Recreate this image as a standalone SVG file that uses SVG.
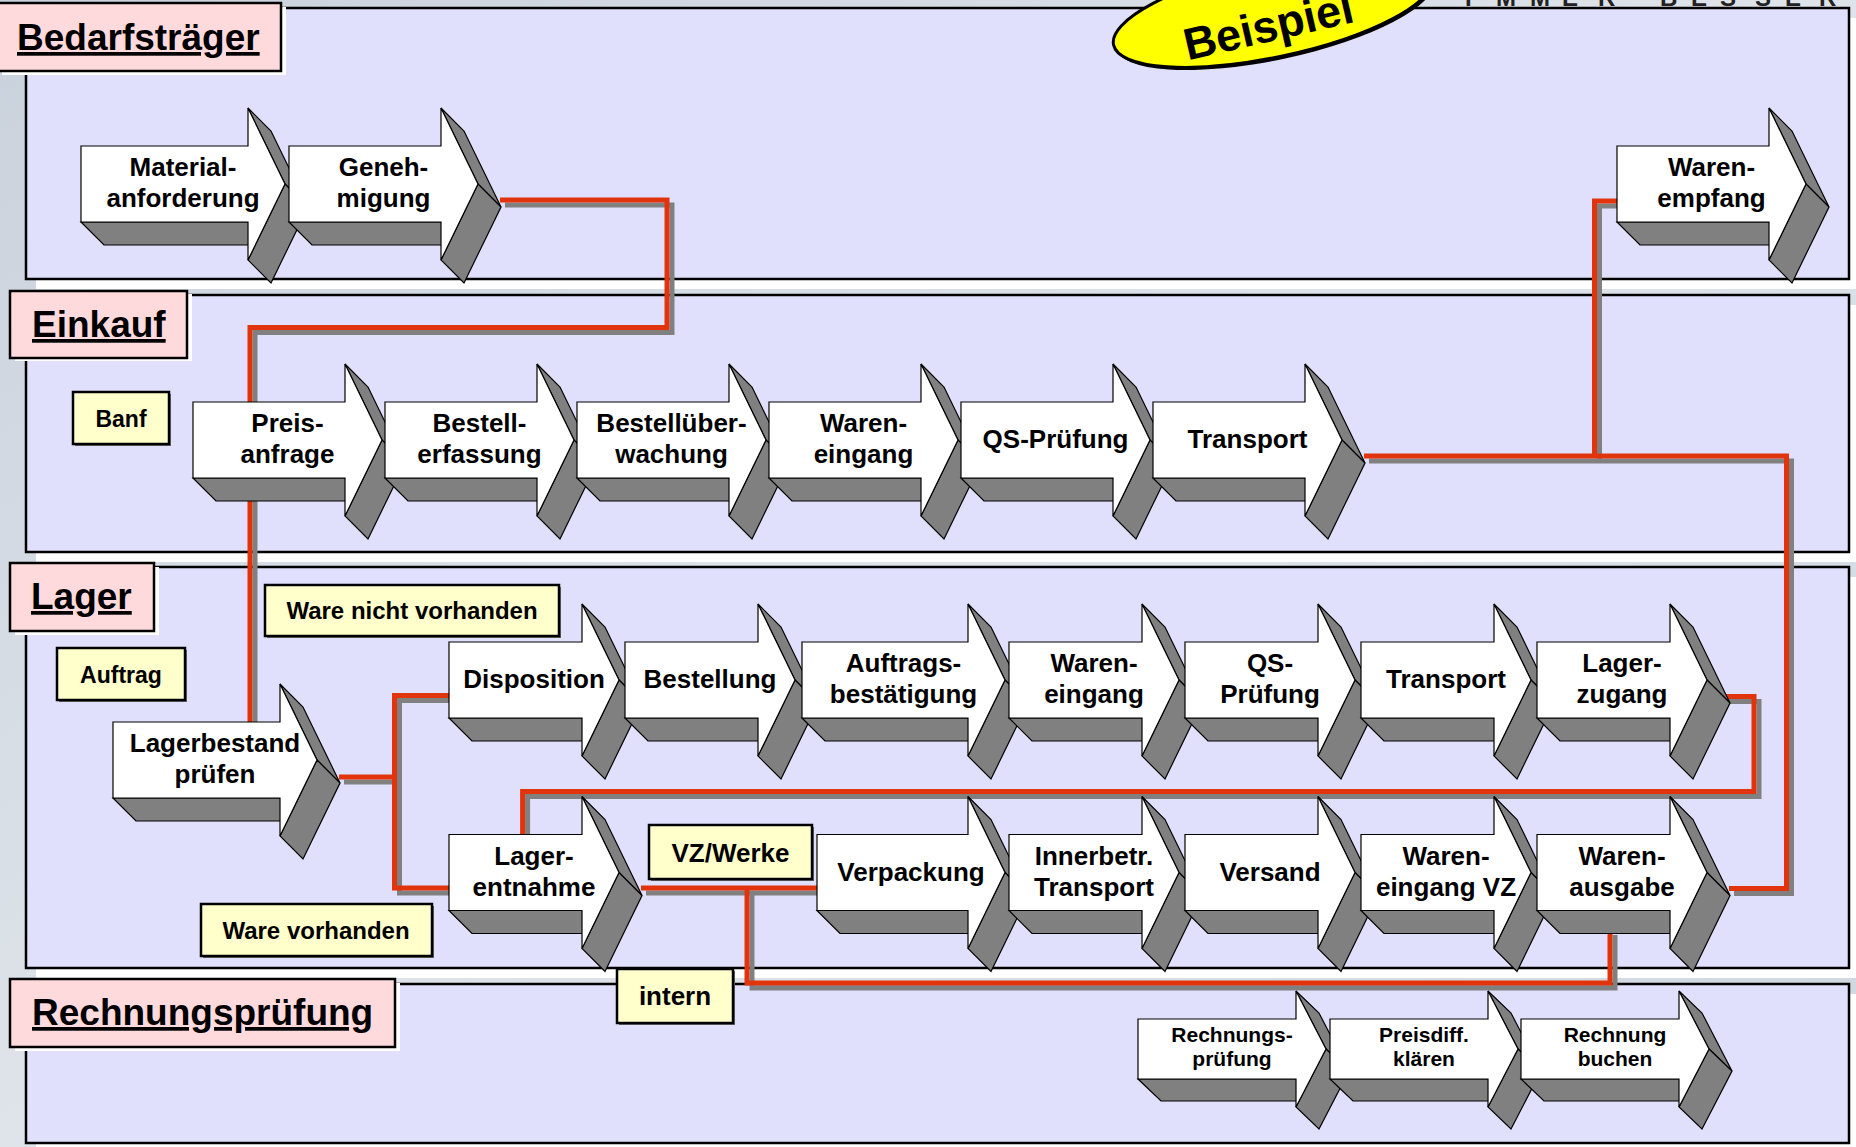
<svg xmlns="http://www.w3.org/2000/svg" xmlns:xlink="http://www.w3.org/1999/xlink" width="1856" height="1147" viewBox="0 0 1856 1147">
<style>
.lane{fill:#e0e0fc;stroke:#000;stroke-width:2.5}
.lsh{fill:#fff}
.lab{fill:#ffdadc;stroke:#000;stroke-width:2.5}
.labt{font-family:"Liberation Sans",Arial,sans-serif;font-weight:bold;font-size:37px;text-decoration:underline;fill:#000}
.front{fill:#fff;stroke:#000;stroke-width:1.2;stroke-linejoin:miter}
.side{fill:#808080;stroke:#000;stroke-width:1.2;stroke-linejoin:miter}
.t{font-family:"Liberation Sans",Arial,sans-serif;font-weight:bold;font-size:26px;text-anchor:middle;fill:#000}
.ts{font-family:"Liberation Sans",Arial,sans-serif;font-weight:bold;font-size:21px;text-anchor:middle;fill:#000}
.note{fill:#ffffcc;stroke:#000;stroke-width:2.5}
.nsh{fill:#6a6a6a}
.nt{font-family:"Liberation Sans",Arial,sans-serif;font-weight:bold;text-anchor:middle;fill:#000}
.csh{fill:none;stroke:#808080;stroke-width:5}
.cred{fill:none;stroke:#e2340c;stroke-width:5}
</style>
<defs>
<linearGradient id="bg" x1="0" y1="0" x2="1" y2="1">
<stop offset="0" stop-color="#c9d1dc"/>
<stop offset="0.5" stop-color="#dfe4ea"/>
<stop offset="1" stop-color="#cfd6df"/>
</linearGradient>
<g id="a167">
<polygon class="side" points="0,38 167,38 190,61 23,61"/>
<polygon class="side" points="167,-76 204,0 227,23 190,-53"/>
<polygon class="side" points="204,0 167,76 190,99 227,23"/>
<polygon class="front" points="0,-38 167,-38 167,-76 204,0 167,76 167,38 0,38"/>
</g>
<g id="a166">
<polygon class="side" points="0,38 166,38 189,61 23,61"/>
<polygon class="side" points="166,-76 203,0 226,23 189,-53"/>
<polygon class="side" points="203,0 166,76 189,99 226,23"/>
<polygon class="front" points="0,-38 166,-38 166,-76 203,0 166,76 166,38 0,38"/>
</g>
<g id="a152">
<polygon class="side" points="0,38 152,38 175,61 23,61"/>
<polygon class="side" points="152,-76 189,0 212,23 175,-53"/>
<polygon class="side" points="189,0 152,76 175,99 212,23"/>
<polygon class="front" points="0,-38 152,-38 152,-76 189,0 152,76 152,38 0,38"/>
</g>
<g id="a151">
<polygon class="side" points="0,38 151,38 174,61 23,61"/>
<polygon class="side" points="151,-76 188,0 211,23 174,-53"/>
<polygon class="side" points="188,0 151,76 174,99 211,23"/>
<polygon class="front" points="0,-38 151,-38 151,-76 188,0 151,76 151,38 0,38"/>
</g>
<g id="a133">
<polygon class="side" points="0,38 133,38 156,61 23,61"/>
<polygon class="side" points="133,-76 170,0 193,23 156,-53"/>
<polygon class="side" points="170,0 133,76 156,99 193,23"/>
<polygon class="front" points="0,-38 133,-38 133,-76 170,0 133,76 133,38 0,38"/>
</g>
<g id="a158">
<polygon class="side" points="0,30 158,30 181,52 23,52"/>
<polygon class="side" points="158,-58 188,0 211,22 181,-36"/>
<polygon class="side" points="188,0 158,58 181,80 211,22"/>
<polygon class="front" points="0,-30 158,-30 158,-58 188,0 158,58 158,30 0,30"/>
</g>
</defs>

<rect x="0" y="0" width="1856" height="1147" fill="url(#bg)"/>
<text x="1465 1496 1530 1562 1598 1630 1660 1691 1720 1755 1785 1819" y="6" font-family="Liberation Sans, Arial, sans-serif" font-weight="bold" font-size="24" fill="#222">IMMER BESSER</text>

<g id="lanes">
<rect class="lsh" x="36" y="18" width="1823" height="271"/>
<rect class="lane" x="26" y="8" width="1823" height="271"/>
<rect class="lsh" x="36" y="305" width="1823" height="257"/>
<rect class="lane" x="26" y="295" width="1823" height="257"/>
<rect class="lsh" x="36" y="577" width="1823" height="401"/>
<rect class="lane" x="26" y="567" width="1823" height="401"/>
<rect class="lsh" x="36" y="994" width="1823" height="159"/>
<rect class="lane" x="26" y="984" width="1823" height="159"/>
</g>

<g id="lane-labels">
<g id="label-bedarfstraeger">
<rect class="lsh" x="2" y="7" width="284" height="68"/>
<rect class="lab" x="-3" y="3" width="284" height="68"/>
<text class="labt" x="17" y="50">Bedarfsträger</text>
</g>
<g id="label-einkauf">
<rect class="lsh" x="15" y="294" width="177" height="67"/>
<rect class="lab" x="10" y="291" width="177" height="67"/>
<text class="labt" x="32" y="337">Einkauf</text>
</g>
<g id="label-lager">
<rect class="lsh" x="15" y="567" width="144" height="68"/>
<rect class="lab" x="10" y="563" width="144" height="68"/>
<text class="labt" x="31" y="609">Lager</text>
</g>
<g id="label-rechnungspruefung">
<rect class="lsh" x="15" y="983" width="385" height="68"/>
<rect class="lab" x="10" y="979" width="385" height="68"/>
<text class="labt" x="32" y="1025">Rechnungsprüfung</text>
</g>
</g>

<g id="connectors">
<g transform="translate(5,5)">
<path class="csh" d="M 500 200 H 667 V 327.5 H 250 V 722"/>
<path class="csh" d="M 1364 456 H 1786.5 V 888.5 H 1729"/>
<path class="csh" d="M 1594.5 456 V 201 H 1612"/>
<path class="csh" d="M 339 777 H 394.5"/>
<path class="csh" d="M 444 695.5 H 394.5 V 888 H 444"/>
<path class="csh" d="M 1722 696.5 H 1754 V 791.5 H 522.6 V 830"/>
<path class="csh" d="M 641 888 H 812"/>
<path class="csh" d="M 747 888 V 983 H 1610 V 930"/>
</g>
<path class="cred" d="M 500 200 H 667 V 327.5 H 250 V 722"/>
<path class="cred" d="M 1364 456 H 1786.5 V 888.5 H 1729"/>
<path class="cred" d="M 1594.5 456 V 201 H 1617"/>
<path class="cred" d="M 339 777 H 394.5"/>
<path class="cred" d="M 449 695.5 H 394.5 V 888 H 449"/>
<path class="cred" d="M 1722 696.5 H 1754 V 791.5 H 522.6 V 834"/>
<path class="cred" d="M 641 888 H 817"/>
<path class="cred" d="M 747 888 V 983 H 1610 V 933"/>
</g>

<g id="n-materialanforderung"><use xlink:href="#a167" x="81" y="184"/><text class="t" x="183" y="176">Material-</text><text class="t" x="183" y="207">anforderung</text></g>
<g id="n-genehmigung"><use xlink:href="#a152" x="289" y="184"/><text class="t" x="383.5" y="176">Geneh-</text><text class="t" x="383.5" y="207">migung</text></g>
<g id="n-warenempfang"><use xlink:href="#a152" x="1617" y="184"/><text class="t" x="1711.5" y="176">Waren-</text><text class="t" x="1711.5" y="207">empfang</text></g>

<g id="n-preisanfrage"><use xlink:href="#a152" x="193" y="440"/><text class="t" x="287.5" y="432">Preis-</text><text class="t" x="287.5" y="463">anfrage</text></g>
<g id="n-bestellerfassung"><use xlink:href="#a152" x="385" y="440"/><text class="t" x="479.5" y="432">Bestell-</text><text class="t" x="479.5" y="463">erfassung</text></g>
<g id="n-bestellueberwachung"><use xlink:href="#a152" x="577" y="440"/><text class="t" x="671.5" y="432">Bestellüber-</text><text class="t" x="671.5" y="463">wachung</text></g>
<g id="n-wareneingang-ek"><use xlink:href="#a152" x="769" y="440"/><text class="t" x="863.5" y="432">Waren-</text><text class="t" x="863.5" y="463">eingang</text></g>
<g id="n-qspruefung-ek"><use xlink:href="#a152" x="961" y="440"/><text class="t" x="1055.5" y="448">QS-Prüfung</text></g>
<g id="n-transport-ek"><use xlink:href="#a152" x="1153" y="440"/><text class="t" x="1247.5" y="448">Transport</text></g>

<g id="n-lagerbestand"><use xlink:href="#a167" x="113" y="760"/><text class="t" x="215" y="752">Lagerbestand</text><text class="t" x="215" y="783">prüfen</text></g>
<g id="n-disposition"><use xlink:href="#a133" x="449" y="680"/><text class="t" x="534" y="688">Disposition</text></g>
<g id="n-bestellung"><use xlink:href="#a133" x="625" y="680"/><text class="t" x="710" y="688">Bestellung</text></g>
<g id="n-auftragsbestaetigung"><use xlink:href="#a166" x="802" y="680"/><text class="t" x="903.5" y="672">Auftrags-</text><text class="t" x="903.5" y="703">bestätigung</text></g>
<g id="n-wareneingang-l"><use xlink:href="#a133" x="1009" y="680"/><text class="t" x="1094" y="672">Waren-</text><text class="t" x="1094" y="703">eingang</text></g>
<g id="n-qspruefung-l"><use xlink:href="#a133" x="1185" y="680"/><text class="t" x="1270" y="672">QS-</text><text class="t" x="1270" y="703">Prüfung</text></g>
<g id="n-transport-l"><use xlink:href="#a133" x="1361" y="680"/><text class="t" x="1446" y="688">Transport</text></g>
<g id="n-lagerzugang"><use xlink:href="#a133" x="1537" y="680"/><text class="t" x="1622" y="672">Lager-</text><text class="t" x="1622" y="703">zugang</text></g>

<g id="n-lagerentnahme"><use xlink:href="#a133" x="449" y="872.5"/><text class="t" x="534" y="864.5">Lager-</text><text class="t" x="534" y="895.5">entnahme</text></g>
<g id="n-verpackung"><use xlink:href="#a151" x="817" y="872.5"/><text class="t" x="911" y="880.5">Verpackung</text></g>
<g id="n-innerbetr-transport"><use xlink:href="#a133" x="1009" y="872.5"/><text class="t" x="1094" y="864.5">Innerbetr.</text><text class="t" x="1094" y="895.5">Transport</text></g>
<g id="n-versand"><use xlink:href="#a133" x="1185" y="872.5"/><text class="t" x="1270" y="880.5">Versand</text></g>
<g id="n-wareneingang-vz"><use xlink:href="#a133" x="1361" y="872.5"/><text class="t" x="1446" y="864.5">Waren-</text><text class="t" x="1446" y="895.5">eingang VZ</text></g>
<g id="n-warenausgabe"><use xlink:href="#a133" x="1537" y="872.5"/><text class="t" x="1622" y="864.5">Waren-</text><text class="t" x="1622" y="895.5">ausgabe</text></g>

<g id="n-rechnungspruefung"><use xlink:href="#a158" x="1138" y="1049"/><text class="ts" x="1232" y="1042">Rechnungs-</text><text class="ts" x="1232" y="1066">prüfung</text></g>
<g id="n-preisdiff"><use xlink:href="#a158" x="1330" y="1049"/><text class="ts" x="1424" y="1042">Preisdiff.</text><text class="ts" x="1424" y="1066">klären</text></g>
<g id="n-rechnungbuchen"><use xlink:href="#a158" x="1521" y="1049"/><text class="ts" x="1615" y="1042">Rechnung</text><text class="ts" x="1615" y="1066">buchen</text></g>

<g id="note-banf"><rect class="nsh" x="75" y="394" width="96" height="52"/><rect class="note" x="73" y="392" width="96" height="52"/><text class="nt" x="121" y="427" font-size="23">Banf</text></g>
<g id="note-auftrag"><rect class="nsh" x="59" y="650" width="128" height="52"/><rect class="note" x="57" y="648" width="128" height="52"/><text class="nt" x="121" y="683" font-size="23">Auftrag</text></g>
<g id="note-ware-nicht"><rect class="nsh" x="267" y="587" width="294" height="51"/><rect class="note" x="265" y="585" width="294" height="51"/><text class="nt" x="412" y="619" font-size="24">Ware nicht vorhanden</text></g>
<g id="note-ware-vorhanden"><rect class="nsh" x="203" y="906" width="231" height="52"/><rect class="note" x="201" y="904" width="231" height="52"/><text class="nt" x="316" y="939" font-size="24">Ware vorhanden</text></g>
<g id="note-vzwerke"><rect class="nsh" x="651" y="827" width="163" height="54"/><rect class="note" x="649" y="825" width="163" height="54"/><text class="nt" x="730.5" y="862" font-size="26">VZ/Werke</text></g>
<g id="note-intern"><rect class="nsh" x="619" y="971" width="116" height="54"/><rect class="note" x="617" y="969" width="116" height="54"/><text class="nt" x="675" y="1005" font-size="26">intern</text></g>

<g id="badge-beispiel" transform="translate(1273,11) rotate(-12)">
<ellipse cx="1" cy="3" rx="163" ry="46" fill="#000"/>
<ellipse cx="0" cy="0" rx="163" ry="46" fill="#ffff00" stroke="#000" stroke-width="3"/>
<text x="-8" y="29" transform="rotate(-1)" font-family="Liberation Sans, Arial, sans-serif" font-weight="bold" font-size="45" text-anchor="middle" fill="#000">Beispiel</text>
</g>
</svg>
